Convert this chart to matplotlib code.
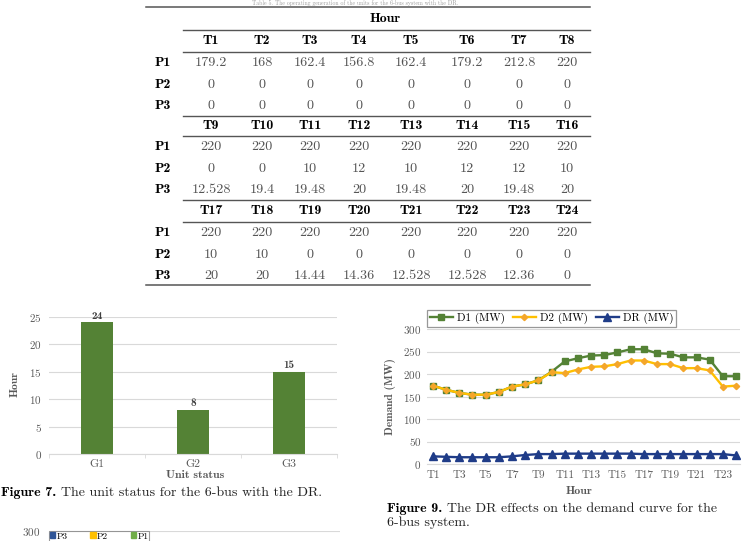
import matplotlib
matplotlib.use("agg")
import matplotlib.pyplot as plt
from matplotlib.lines import Line2D
from matplotlib.patches import Patch
import numpy as np

# table data (dispatch of units per hour)
hours = [f"T{i}" for i in range(1, 25)]
p1 = [179.2, 168, 162.4, 156.8, 162.4, 179.2, 212.8, 220,
      220, 220, 220, 220, 220, 220, 220, 220,
      220, 220, 220, 220, 220, 220, 220, 220]
p2 = [0, 0, 0, 0, 0, 0, 0, 0,
      0, 0, 10, 12, 10, 12, 12, 10,
      10, 10, 0, 0, 0, 0, 0, 0]
p3 = [0, 0, 0, 0, 0, 0, 0, 0,
      12.528, 19.4, 19.48, 20, 19.48, 20, 19.48, 20,
      20, 20, 14.44, 14.36, 12.528, 12.528, 12.36, 0]

# figure 7 data
units = ["G1", "G2", "G3"]
unit_hours = [24, 8, 15]

# figure 9 data
d1 = [174, 165, 158, 154, 154, 160, 172, 177, 186, 205, 228, 235,
      241, 242, 248, 255, 255, 246, 245, 237, 237, 232, 195, 195]
d2 = [174, 165, 158, 154, 154, 160, 172, 177, 186, 204, 202, 210,
      216, 217, 222, 230, 230, 222, 222, 213, 213, 208, 172, 174]
dr = [17, 16, 15, 15, 15, 15, 17, 20, 22, 22, 23, 23,
      23, 23, 23, 23, 22, 22, 22, 22, 22, 22, 22, 19]

W, H = 750, 541
REG = "cmr10"
BOLD = "cmb10"
GRAY = "#595959"
GRID = "#d9d9d9"

plt.rcParams["axes.formatter.use_mathtext"] = True
plt.rcParams["mathtext.fontset"] = "cm"

fig = plt.figure(figsize=(W / 100, H / 100), dpi=100)


def fx(x):
    return x / W


def fy(y):
    return 1 - y / H


def hline(x0, x1, y, lw=1.0, color="#555555"):
    fig.add_artist(Line2D([fx(x0), fx(x1)], [fy(y), fy(y)], lw=lw, color=color,
                          transform=fig.transFigure))


def put(x, y, s, size, bold=False, color="black", ha="center", **kw):
    return fig.text(fx(x), fy(y), s, fontsize=size, family=BOLD if bold else REG,
                    color=color, ha=ha, va="center", **kw)


def axes_px(left, top, right, bottom):
    return fig.add_axes([fx(left), fy(bottom), fx(right - left), (bottom - top) / H])


# ---------------- table ----------------
# caption above the table is mostly cropped in the source, keep it small
put(355, 3, "Table 5. The operating generation of the units for the 6-bus system with the DR.",
    4.2, color="#9a9a9a")
hline(146, 590, 7, lw=1.1)
put(385, 19, "Hour", 10, bold=True)
hline(183, 590, 30)
col_x = [211, 262, 310, 359, 411, 467, 519, 567]
block_top = [41, 126, 211]
rule_y = [[52, 116], [136, 200], [222, 285]]
for b in range(3):
    yh = block_top[b]
    for c in range(8):
        put(col_x[c], yh, hours[b * 8 + c], 10, bold=True)
    hline(183, 590, rule_y[b][0])
    for r, (name, vals) in enumerate([("P1", p1), ("P2", p2), ("P3", p3)]):
        yr = rule_y[b][0] + 11 + r * 21.5
        put(163, yr, name, 10, bold=True)
        for c in range(8):
            put(col_x[c], yr, f"{vals[b * 8 + c]:g}", 10.2, color="#555555")
    if b < 2:
        hline(183, 590, rule_y[b][1])
hline(146, 590, 285, lw=1.1)

# ---------------- figure 7: unit status ----------------
ax1 = axes_px(49, 317, 337, 454)
x = np.arange(len(units))
bars = ax1.bar(x, unit_hours, width=0.34, color="#548235")
for rect, v in zip(bars, unit_hours):
    ax1.text(rect.get_x() + rect.get_width() / 2, v + 0.35, str(v), ha="center",
             va="bottom", fontsize=8, family=BOLD, color="#404040", clip_on=False)
ax1.set_xlim(-0.5, 2.5)
ax1.set_ylim(0, 25)
ax1.set_yticks(range(0, 26, 5))
ax1.set_xticks(x)
ax1.set_xticklabels(units, family=REG, fontsize=8.5, color=GRAY)
ax1.set_xticks([-0.5, 0.5, 1.5, 2.5], minor=True)
ax1.tick_params(axis="x", which="major", length=0, pad=4)
ax1.tick_params(axis="x", which="minor", length=3, color=GRID)
ax1.tick_params(axis="y", length=0, pad=5, labelsize=8, labelcolor=GRAY)
for lab in ax1.get_yticklabels():
    lab.set_family(REG)
ax1.grid(axis="y", color=GRID, lw=0.8)
ax1.set_axisbelow(True)
for s in ["top", "right", "left"]:
    ax1.spines[s].set_visible(False)
ax1.spines["bottom"].set_color(GRID)
fig.text(fx(15), fy(384), "Hour", rotation=90, fontsize=8.3, family=BOLD, color=GRAY,
         ha="center", va="center")
put(195, 475, "Unit status", 8.5, bold=True, color=GRAY)

# caption with bold label
renderer = fig.canvas.get_renderer()


def caption(x, y, label, rest, size=10):
    t = put(x, y, label, size, bold=True, ha="left")
    bb = t.get_window_extent(renderer=renderer)
    put(bb.x1 + 5, y, rest, size, ha="left", color="#222222")


caption(1, 493, "Figure 7.", "The unit status for the 6-bus with the DR.")

# ---------------- figure 8 (partly visible) ----------------
ax3 = axes_px(49, 531, 340, 666)
ax3.bar(np.arange(24), p1, color="#70ad47", width=0.6, label="P1")
ax3.bar(np.arange(24), p2, bottom=p1, color="#ffc000", width=0.6, label="P2")
ax3.bar(np.arange(24), p3, bottom=np.array(p1) + np.array(p2), color="#2f5597",
        width=0.6, label="P3")
ax3.set_ylim(0, 300)
ax3.set_yticks([300])
ax3.set_xticks([])
ax3.tick_params(axis="y", length=0, pad=6, labelsize=8, labelcolor=GRAY)
for lab in ax3.get_yticklabels():
    lab.set_family(REG)
ax3.grid(axis="y", color=GRID, lw=0.8)
ax3.set_axisbelow(True)
for s in ax3.spines.values():
    s.set_visible(False)
handles = [Patch(color="#2f5597"), Patch(color="#ffc000"), Patch(color="#70ad47")]
leg3 = ax3.legend(handles, ["P3", "P2", "P1"], loc="upper left", ncol=3,
                  bbox_to_anchor=(0, 1.0), frameon=True, fancybox=False,
                  prop={"family": REG, "size": 6.8}, handlelength=0.55, handleheight=0.55,
                  handletextpad=0.15, columnspacing=2.4, borderpad=0.12, borderaxespad=0)
leg3.get_frame().set_edgecolor("#808080")
leg3.get_frame().set_linewidth(0.8)

# ---------------- figure 9: demand curve ----------------
ax2 = axes_px(427, 329, 740, 464)
t = np.arange(24)
ax2.plot(t, d1, color="#548235", lw=1.7, marker="s", ms=5, label="D1 (MW)")
ax2.plot(t, d2, color="#ffc000", lw=1.7, marker="D", ms=3.2, mfc="#f4a62a",
         mec="#f4a62a", label="D2 (MW)")
ax2.plot(t, dr, color="#1f3c88", lw=1.7, marker="^", ms=5.5, label="DR (MW)")
ax2.set_xlim(-0.45, 23.3)
ax2.set_ylim(0, 300)
ax2.set_yticks(range(0, 301, 50))
ax2.set_xticks(t[::2])
ax2.set_xticklabels(hours[::2], family=REG, fontsize=8, color=GRAY)
ax2.tick_params(axis="x", length=0, pad=5)
ax2.tick_params(axis="y", length=0, pad=4, labelsize=8, labelcolor=GRAY)
for lab in ax2.get_yticklabels():
    lab.set_family(REG)
ax2.grid(axis="y", color=GRID, lw=0.8)
ax2.set_axisbelow(True)
for s in ["top", "right", "left"]:
    ax2.spines[s].set_visible(False)
ax2.spines["bottom"].set_color(GRID)
fig.text(fx(391), fy(397), "Demand (MW)", rotation=90, fontsize=8.2, family=BOLD,
         color=GRAY, ha="center", va="center")
put(579, 491, "Hour", 8.5, bold=True, color=GRAY)
leg2 = ax2.legend(loc="lower left", ncol=3,
                  bbox_to_anchor=(fx(427), fy(327)), bbox_transform=fig.transFigure,
                  frameon=True, fancybox=False, prop={"family": REG, "size": 8},
                  handlelength=2.1, handletextpad=0.35, columnspacing=0.7,
                  borderpad=0.25, borderaxespad=0)
leg2.get_frame().set_edgecolor("#7f7f7f")
leg2.get_frame().set_linewidth(0.9)

caption(387, 509, "Figure 9.", "The DR effects on the demand curve for the")
put(387, 523, "6-bus system.", 10, ha="left", color="#222222")

fig.savefig("out.png", dpi=100)
